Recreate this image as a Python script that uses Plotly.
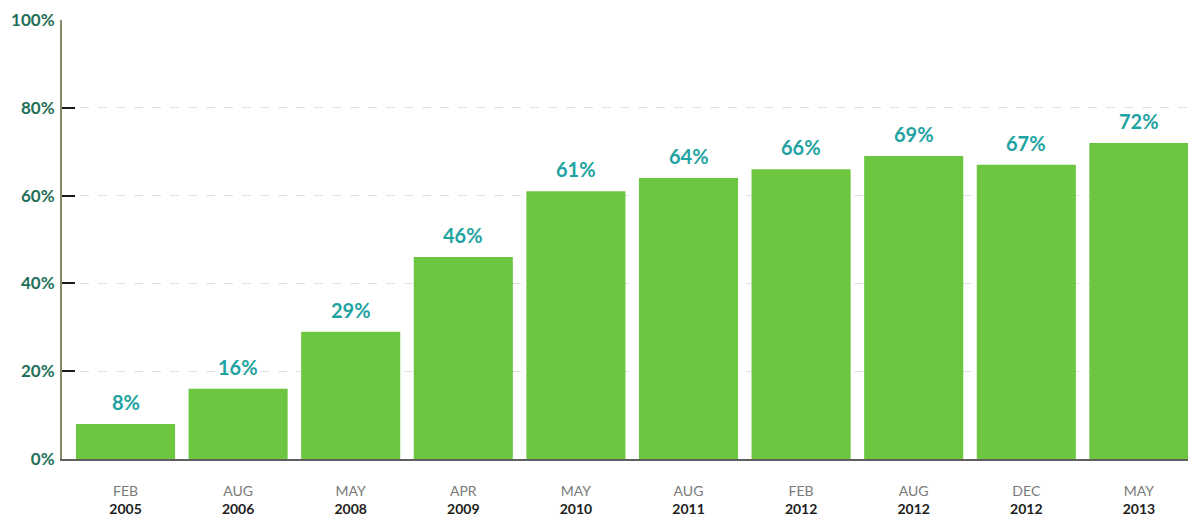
import plotly.graph_objects as go

# Survey periods and share values (%)
months = ["FEB", "AUG", "MAY", "APR", "MAY", "AUG", "FEB", "AUG", "DEC", "MAY"]
years = ["2005", "2006", "2008", "2009", "2010", "2011", "2012", "2012", "2012", "2013"]
values = [8, 16, 29, 46, 61, 64, 66, 69, 67, 72]
y_ticks = [0, 20, 40, 60, 80, 100]

x_pos = list(range(len(values)))
tick_text = [
    f"<span style='color:#7a7a7a'>{m}</span><br><b><span style='color:#1e1e1e'>{y}</span></b>"
    for m, y in zip(months, years)
]

fig = go.Figure(
    go.Bar(
        x=x_pos,
        y=values,
        marker=dict(color="#6cc640", line=dict(width=0)),
        hoverinfo="skip",
    )
)

# Value labels above each bar
for xi, v in zip(x_pos, values):
    fig.add_annotation(
        x=xi, y=v, text=f"<b>{v}%</b>", showarrow=False,
        yanchor="middle", yshift=22,
        font=dict(family="Lato", size=20, color="#1fa3a2"),
    )

fig.update_layout(
    width=1188, height=517,
    margin=dict(l=62, r=0, t=20, b=58),
    paper_bgcolor="white", plot_bgcolor="white",
    bargap=0.12,
    showlegend=False,
    font=dict(family="Lato"),
)

fig.update_xaxes(
    range=[-0.564, 9.436],
    tickvals=x_pos, ticktext=tick_text,
    tickfont=dict(family="Lato", size=14),
    showgrid=False, zeroline=False,
    showline=True, linecolor="#5f5f5f", linewidth=2,
    ticks="", ticklabelstandoff=18,
)

fig.update_yaxes(
    range=[0, 100],
    tickvals=y_ticks, ticktext=[f"<b>{t}%</b>" for t in y_ticks],
    tickfont=dict(family="Lato", size=17, color="#1f6f5c"),
    showgrid=True, gridcolor="#e0e0e0", griddash="dash", gridwidth=1,
    zeroline=False,
    showline=True, linecolor="#858a6a", linewidth=2,
    ticks="inside", ticklen=13, tickcolor="#1a1a1a", tickwidth=2,
    ticklabelstandoff=2,
)

fig.write_html("out.html")
